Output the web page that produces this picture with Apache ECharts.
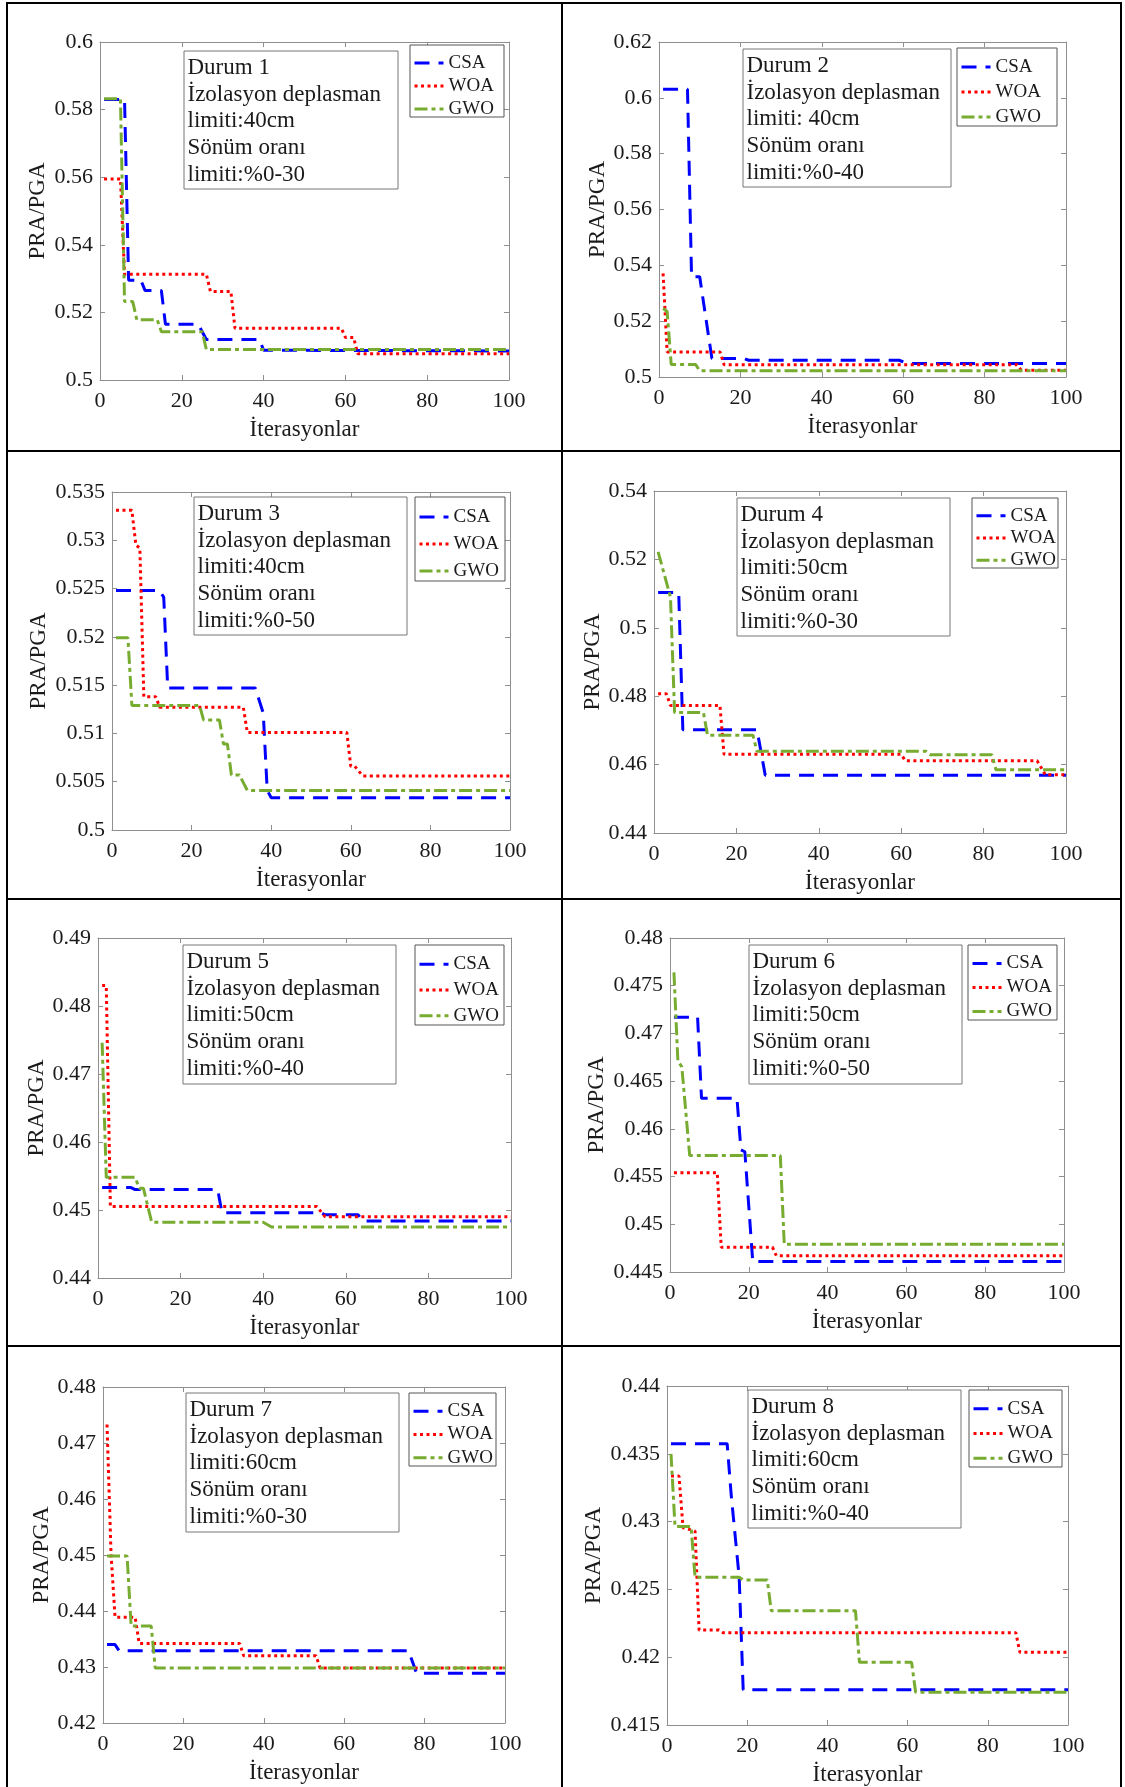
<!DOCTYPE html>
<html>
<head>
<meta charset="utf-8">
<script src="https://cdn.jsdelivr.net/npm/echarts@6/dist/echarts.min.js"></script>
<style>
html,body{margin:0;padding:0;background:#fff;}
#c{width:1125px;height:1787px;}
</style>
</head>
<body>
<div id="c"></div>
<script>
// ---------------- DATA ----------------
const seriesNames = ['CSA', 'WOA', 'GWO'];
const xTicks = [0, 20, 40, 60, 80, 100];
const yMin  = [0.5, 0.5, 0.5, 0.44, 0.44, 0.445, 0.42, 0.415];
const yMax  = [0.6, 0.62, 0.535, 0.54, 0.49, 0.48, 0.48, 0.44];
const yStep = [0.02, 0.02, 0.005, 0.02, 0.01, 0.005, 0.01, 0.005];
const durumLabels = ['Durum 1','Durum 2','Durum 3','Durum 4','Durum 5','Durum 6','Durum 7','Durum 8'];
const dispLimits = ['limiti:40cm','limiti: 40cm','limiti:40cm','limiti:50cm','limiti:50cm','limiti:50cm','limiti:60cm','limiti:60cm'];
const dampLimits = ['limiti:%0-30','limiti:%0-40','limiti:%0-50','limiti:%0-30','limiti:%0-40','limiti:%0-50','limiti:%0-30','limiti:%0-40'];
const xTitle = 'İterasyonlar';
const yTitle = 'PRA/PGA';

const csa1 = [[1,0.583],[6,0.583],[7,0.5295],[10,0.5295],[11,0.5265],[15,0.5265],[16,0.5165],[24,0.5165],[26,0.512],[39,0.512],[40,0.5088],[100,0.5086]];
const woa1 = [[1,0.5595],[5,0.5595],[6,0.5313],[26,0.5313],[27,0.5262],[32,0.5262],[33,0.5153],[59,0.5153],[60,0.5126],[62,0.5126],[63,0.5078],[100,0.5078]];
const gwo1 = [[1,0.5832],[5,0.5832],[6,0.5232],[8,0.5232],[9,0.5178],[14,0.5178],[15,0.5143],[25,0.5143],[26,0.509],[100,0.509]];

const csa2 = [[1,0.6031],[7,0.6031],[8,0.5359],[10,0.5359],[13,0.5066],[21,0.5066],[22,0.506],[59,0.506],[61,0.5048],[100,0.5048]];
const woa2 = [[1,0.5371],[2,0.509],[15,0.509],[16,0.5044],[88,0.5044],[89,0.5024],[100,0.5024]];
const gwo2 = [[1,0.5245],[2,0.5235],[3,0.5045],[9,0.5045],[10,0.5022],[100,0.5022]];

const csa3 = [[1,0.5248],[12,0.5248],[13,0.5241],[14,0.5147],[36,0.5147],[38,0.5121],[39,0.5041],[40,0.50334],[100,0.50334]];
const woa3 = [[1,0.5331],[5,0.5331],[6,0.5295],[7,0.5292],[8,0.5138],[11,0.5138],[12,0.5127],[33,0.5127],[34,0.5101],[59,0.5101],[60,0.5066],[61,0.5066],[63,0.5056],[100,0.5056]];
const gwo3 = [[1,0.5199],[4,0.5199],[5,0.5129],[22,0.5129],[23,0.5114],[27,0.5114],[28,0.5089],[29,0.5089],[30,0.5057],[32,0.5057],[34,0.5041],[100,0.5041]];

const csa4 = [[1,0.5103],[6,0.5103],[7,0.4702],[25,0.4702],[27,0.4569],[100,0.4569]];
const woa4 = [[1,0.4807],[3,0.4807],[4,0.4773],[16,0.4773],[17,0.463],[60,0.463],[61,0.4611],[93,0.4611],[95,0.457],[100,0.457]];
const gwo4 = [[1,0.5222],[4,0.509],[5,0.4752],[12,0.4752],[13,0.4686],[24,0.4686],[25,0.4639],[66,0.4639],[67,0.4629],[82,0.4629],[83,0.4585],[100,0.4585]];

const csa5 = [[1,0.4533],[8,0.4533],[9,0.453],[29,0.453],[30,0.4496],[54,0.4496],[55,0.4493],[63,0.4493],[64,0.4484],[100,0.4484]];
const woa5 = [[1,0.483],[2,0.483],[3,0.4505],[53,0.4505],[55,0.449],[100,0.449]];
const gwo5 = [[1,0.4746],[2,0.4548],[9,0.4548],[10,0.4532],[11,0.4532],[13,0.4482],[40,0.4482],[42,0.4475],[100,0.4475]];

const csa6 = [[1,0.4717],[7,0.4717],[8,0.4632],[17,0.4632],[18,0.4578],[19,0.4576],[21,0.4461],[100,0.4461]];
const woa6 = [[1,0.4554],[12,0.4554],[13,0.4476],[26,0.4476],[27,0.4467],[100,0.4467]];
const gwo6 = [[1,0.4764],[2,0.4671],[3,0.4665],[5,0.4572],[28,0.4572],[29,0.4479],[100,0.4479]];

const csa7 = [[1,0.434],[3,0.434],[4,0.4329],[76,0.4329],[78,0.4289],[100,0.4289]];
const woa7 = [[1,0.4733],[2,0.4502],[3,0.4389],[8,0.4389],[9,0.4342],[34,0.4342],[35,0.432],[53,0.432],[54,0.4298],[100,0.4298]];
const gwo7 = [[1,0.4498],[6,0.4498],[7,0.4373],[12,0.4373],[13,0.4298],[100,0.4298]];

const csa8 = [[1,0.43575],[15,0.43575],[16,0.432],[18,0.4259],[19,0.4176],[100,0.4176]];
const woa8 = [[1,0.43336],[3,0.43336],[4,0.42955],[7,0.4293],[8,0.422],[13,0.422],[14,0.4218],[87,0.4218],[88,0.42036],[100,0.42036]];
const gwo8 = [[1,0.435],[2,0.42963],[6,0.42963],[7,0.4259],[18,0.4259],[19,0.4257],[25,0.4257],[26,0.42343],[47,0.42343],[48,0.41962],[61,0.41962],[62,0.41741],[100,0.41741]];

const panelData = [
  [csa1, woa1, gwo1], [csa2, woa2, gwo2], [csa3, woa3, gwo3], [csa4, woa4, gwo4],
  [csa5, woa5, gwo5], [csa6, woa6, gwo6], [csa7, woa7, gwo7], [csa8, woa8, gwo8]
];

// ---------------- LAYOUT (pixels) ----------------
const plots = [
  [100,42,509,380],[659,42,1066,377],
  [112,492,510,830],[654,491,1066,833],
  [98,938,511,1278],[670,938,1064,1272],
  [103,1387,505,1723],[667,1386,1068,1725]
];
const annots = [
  [184,51,398,189],[743,49,951,187],
  [194,497,407,635],[737,498,950,636],
  [183,945,396,1084],[749,945,962,1084],
  [186,1393,399,1532],[748,1390,961,1528]
];
const legBoxes = [
  [410,45,504,117],[957,48,1057,126],
  [415,497,505,581],[972,498,1058,568],
  [415,945,504,1025],[968,945,1057,1020],
  [409,1393,496,1466],[969,1390,1062,1467]
];
const yNameCenter = [63,61,74,61,62,73.6,62,74];

// ---------------- STYLE ----------------
const FONT = '"Liberation Serif","Times New Roman",serif';
const TXT = '#1a1a1a';
const AX = '#8f8f8f';
const lineStyles = [
  {color:'#0000ff', width:3, type:[15,9]},
  {color:'#ff0000', width:3, type:[3,3.5]},
  {color:'#77ac30', width:3, type:[13,4,4,4]}
];
const fmt = v => String(+(+v).toFixed(4));

const grid=[], xAxis=[], yAxis=[], series=[], legend=[], graphic=[];
for (let i = 0; i < 8; i++) {
  const [L,T,R,B] = plots[i];
  grid.push({left:L, top:T, width:R-L, height:B-T, show:false, containLabel:false});
  const axLine = {show:true, onZero:false, lineStyle:{color:AX, width:1}};
  const axTick = {show:true, inside:true, length:5, lineStyle:{color:AX, width:1}};
  const xBase = {gridIndex:i, type:'value', min:xTicks[0], max:xTicks[xTicks.length-1], interval:xTicks[1]-xTicks[0],
    axisLine:axLine, axisTick:axTick, splitLine:{show:false}};
  xAxis.push(Object.assign({}, xBase, {position:'bottom',
    axisLabel:{show:true, margin:10, fontSize:22, fontFamily:FONT, color:TXT, showMinLabel:true, showMaxLabel:true, formatter:fmt},
    name:xTitle, nameLocation:'middle', nameGap:38, nameTextStyle:{fontSize:23, fontFamily:FONT, color:TXT}}));
  xAxis.push(Object.assign({}, xBase, {position:'top', axisLabel:{show:false}}));
  const yBase = {gridIndex:i, type:'value', min:yMin[i], max:yMax[i], interval:yStep[i],
    axisLine:axLine, axisTick:axTick, splitLine:{show:false}};
  yAxis.push(Object.assign({}, yBase, {position:'left',
    axisLabel:{show:true, margin:7, fontSize:22, fontFamily:FONT, color:TXT, showMinLabel:true, showMaxLabel:true, formatter:fmt},
    name:yTitle, nameLocation:'middle', nameRotate:90, nameGap:yNameCenter[i]-12,
    nameTextStyle:{fontSize:23, fontFamily:FONT, color:TXT}}));
  yAxis.push(Object.assign({}, yBase, {position:'right', axisLabel:{show:false}}));

  for (let s = 0; s < 3; s++) {
    series.push({type:'line', name:seriesNames[s], xAxisIndex:2*i, yAxisIndex:2*i,
      data:panelData[i][s], symbol:'none', showSymbol:false, animation:false, clip:true,
      lineStyle:lineStyles[s], z:2+s});
  }

  // legend
  const lb = legBoxes[i];
  const H = lb[3]-lb[1];
  const sp = (H-6)/3;
  const row1 = lb[1] + H/2 - sp + 3.5;
  graphic.push({type:'rect', z:3, silent:true,
    shape:{x:lb[0], y:lb[1], width:lb[2]-lb[0], height:H},
    style:{fill:'#fff', stroke:'#555', lineWidth:1}});
  legend.push({data:seriesNames, orient:'vertical', left:lb[0]+3, top:row1-9,
    padding:0, itemGap:sp-18, itemWidth:29, itemHeight:12, z:5, selectedMode:false,
    itemStyle:{opacity:0, color:'rgba(0,0,0,0)', borderColor:'rgba(0,0,0,0)', borderWidth:0},
    lineStyle:{width:3},
    textStyle:{fontSize:19, fontFamily:FONT, color:TXT, lineHeight:18}});

  // annotation box
  const a = annots[i];
  graphic.push({type:'rect', z:3, silent:true,
    shape:{x:a[0], y:a[1], width:a[2]-a[0], height:a[3]-a[1]},
    style:{fill:'#fff', stroke:'#777', lineWidth:1}});
  graphic.push({type:'text', z:4, silent:true, x:a[0]+3.5, y:a[1]+3.6,
    style:{text:[durumLabels[i], 'İzolasyon deplasman', dispLimits[i], 'Sönüm oranı', dampLimits[i]].join('\n'),
      font:'23px ' + FONT, lineHeight:26.7, fill:TXT, verticalAlign:'top', align:'left'}});
}

// table cell borders
const vLines = [7, 562, 1121];
const hLines = [3, 451, 899, 1346];
vLines.forEach(x => graphic.push({type:'line', z:10, silent:true, shape:{x1:x, y1:2, x2:x, y2:1787}, style:{stroke:'#000', lineWidth:2}}));
hLines.forEach(y => graphic.push({type:'line', z:10, silent:true, shape:{x1:6, y1:y, x2:1122, y2:y}, style:{stroke:'#000', lineWidth:2}}));

const chart = echarts.init(document.getElementById('c'), null, {renderer:'canvas', width:1125, height:1787});
chart.setOption({
  backgroundColor:'#fff',
  animation:false,
  grid, xAxis, yAxis, series, legend, graphic
});
</script>
</body>
</html>
